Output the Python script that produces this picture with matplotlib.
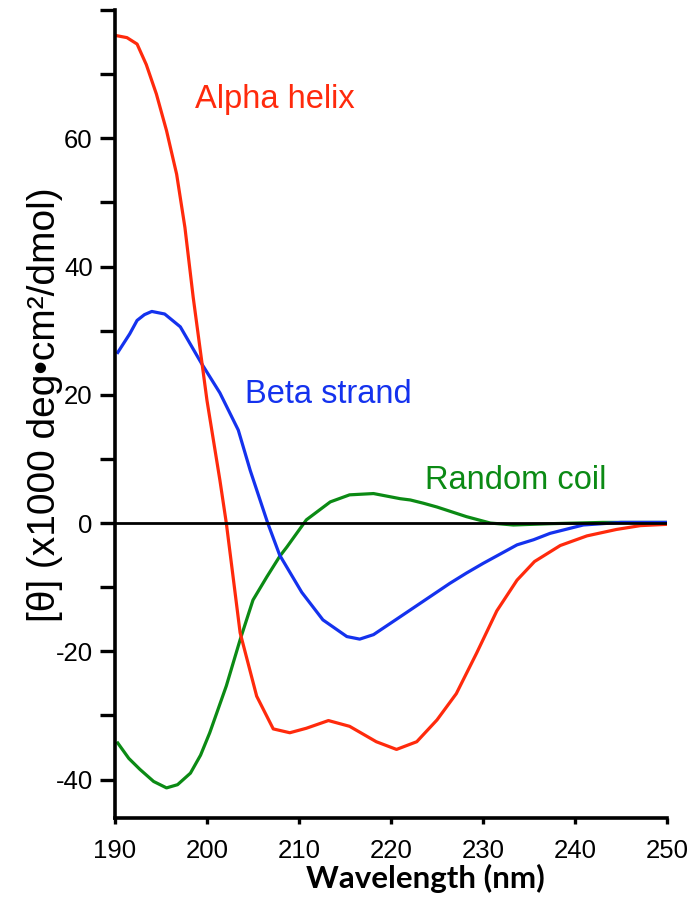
import matplotlib
matplotlib.use('agg')
import matplotlib.pyplot as plt
from matplotlib.ticker import FixedLocator

plt.rcParams['font.family'] = ['Liberation Sans', 'DejaVu Sans']
plt.rcParams['axes.unicode_minus'] = False

# wavelength (nm) / mean residue ellipticity (x1000 deg cm2/dmol)
helix_wl = [190.2, 191.3, 192.4, 193.4, 194.5, 195.6, 196.7, 197.6, 198.5, 200.0, 201.4,
            202.1, 203.6, 205.4, 207.2, 209.0, 210.8, 213.2, 215.5, 218.4, 220.6, 222.8,
            225.0, 227.1, 229.3, 231.5, 233.7, 235.6, 238.4, 241.3, 244.5, 247.1, 250.0]
helix_val = [76.0, 75.7, 74.7, 71.5, 66.9, 61.2, 54.4, 46.1, 35.2, 19.1, 6.7,
             0.0, -17.1, -27.0, -32.1, -32.7, -32.0, -30.8, -31.7, -34.1, -35.3, -34.1,
             -30.7, -26.6, -20.3, -13.7, -8.9, -6.0, -3.5, -2.0, -1.0, -0.4, -0.2]

strand_wl = [190.3, 191.6, 192.4, 193.2, 194.0, 195.4, 197.1, 199.4, 201.4, 203.4, 204.7,
             206.6, 207.9, 210.3, 212.6, 215.2, 216.6, 218.1, 220.6, 223.5, 226.4, 228.2,
             230.0, 233.7, 235.5, 237.3, 240.9, 245.0, 250.0]
strand_val = [26.6, 29.5, 31.6, 32.5, 33.0, 32.6, 30.6, 24.9, 20.3, 14.5, 8.2,
              0.0, -5.0, -10.8, -15.1, -17.7, -18.1, -17.4, -15.0, -12.2, -9.4, -7.8,
              -6.3, -3.4, -2.6, -1.6, -0.3, 0.1, 0.1]

coil_wl = [190.3, 191.5, 192.7, 194.2, 195.6, 196.8, 198.2, 199.3, 200.3, 202.1, 203.6,
           205.0, 206.5, 207.9, 208.7, 210.8, 213.4, 215.5, 218.1, 221.0, 222.1, 223.5,
           225.0, 228.2, 230.8, 233.3, 237.3, 243.0, 250.0]
coil_val = [-34.3, -36.7, -38.4, -40.3, -41.3, -40.8, -39.0, -36.2, -32.7, -25.4, -18.2,
            -12.0, -8.4, -5.2, -3.7, 0.5, 3.3, 4.4, 4.6, 3.8, 3.6, 3.1,
            2.5, 1.0, 0.0, -0.3, -0.1, 0.1, 0.1]

x_ticks = [190, 200, 210, 220, 230, 240, 250]
y_ticks = [-40, -20, 0, 20, 40, 60]
y_minor = [-30, -10, 10, 30, 50, 70, 80]

red = '#ff2a0c'
blue = '#1432ee'
green = '#0b8a14'

fig = plt.figure(figsize=(6.94, 9.06), dpi=100)
ax = fig.add_axes([0.1657, 0.0971, 0.7954, 0.8918])

ax.plot(coil_wl, coil_val, color=green, lw=2.3, solid_joinstyle='round')
ax.plot(strand_wl, strand_val, color=blue, lw=2.3, solid_joinstyle='round')
ax.plot(helix_wl, helix_val, color=red, lw=2.3, solid_joinstyle='round')
ax.plot([190, 250], [0, 0], color='black', lw=2.0)

ax.text(198.7, 66, 'Alpha helix', color=red, fontsize=23.5, va='center', ha='left')
ax.text(204.1, 20, 'Beta strand', color=blue, fontsize=23.5, va='center', ha='left')
ax.text(223.7, 6.7, 'Random coil', color=green, fontsize=23.5, va='center', ha='left')

ax.set_xlim(190, 250)
ax.set_ylim(-46, 80)
ax.set_xticks(x_ticks)
ax.yaxis.set_major_locator(FixedLocator(y_ticks))
ax.yaxis.set_minor_locator(FixedLocator(y_minor))

for s in ['top', 'right']:
    ax.spines[s].set_visible(False)
for s in ['left', 'bottom']:
    ax.spines[s].set_linewidth(2.6)

ax.tick_params(axis='y', which='major', length=11, width=2.4, labelsize=18.5, pad=5)
ax.tick_params(axis='y', which='minor', length=11, width=2.4)
ax.tick_params(axis='x', length=4, width=2.4, labelsize=18.5, pad=11)

ax.set_ylabel('[θ] (x1000 deg•cm²/dmol)', fontsize=28)
ax.yaxis.set_label_coords(-0.095, 0.512)
ax.set_xlabel('Wavelength (nm)', fontsize=22.5, fontweight='bold', family=['Lato', 'DejaVu Sans'])
ax.xaxis.label.set_va('center')
ax.xaxis.set_label_coords(0.5616, -0.0743)

fig.savefig('out.png', dpi=100)
